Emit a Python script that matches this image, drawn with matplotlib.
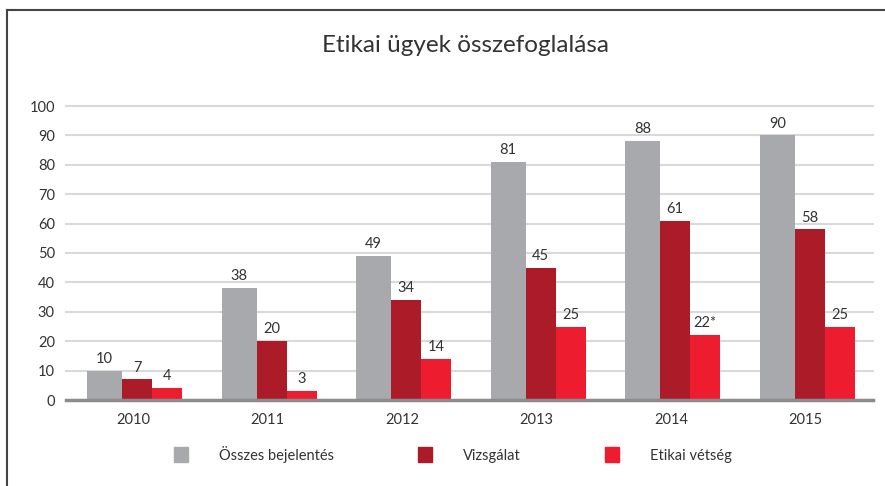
import matplotlib
matplotlib.use('Agg')
import matplotlib.pyplot as plt
from matplotlib.lines import Line2D
import numpy as np

plt.rcParams['font.family'] = ['Lato', 'DejaVu Sans']

# ── Data ──────────────────────────────────────────────────────────────────────
years      = ['2010', '2011', '2012', '2013', '2014', '2015']
osszes     = [10, 38, 49, 81, 88, 90]
vizsgalat  = [7, 20, 34, 45, 61, 58]
vetseg     = [4, 3, 14, 25, 22, 25]
vetseg_lbl = ['4', '3', '14', '25', '22*', '25']
series_names = ['Összes bejelentés', 'Vizsgálat', 'Etikai vétség']

# ── Style ─────────────────────────────────────────────────────────────────────
C_GRAY, C_DARK, C_RED = '#A7A9AC', '#AC1C28', '#ED1C2E'
TXT = '#333333'

fig = plt.figure(figsize=(8.85, 4.86), dpi=100)
ax = fig.add_axes([66 / 885, 86 / 486, 807 / 885, 294 / 486])

x = np.arange(len(years))
groups = [
    (osszes,    C_GRAY, -0.342, 0.26, [str(v) for v in osszes]),
    (vizsgalat, C_DARK, -0.082, 0.223, [str(v) for v in vizsgalat]),
    (vetseg,    C_RED,   0.141, 0.223, vetseg_lbl),
]
for vals, col, off, w, lbls in groups:
    bars = ax.bar(x + off, vals, width=w, align='edge', color=col, zorder=3)
    for b, lab in zip(bars, lbls):
        ax.annotate(lab, (b.get_x() + b.get_width() / 2, b.get_height()),
                    xytext=(0, 3.5), textcoords='offset points',
                    ha='center', va='bottom', fontsize=10.5, color=TXT)

ax.set_xlim(-0.5, len(years) - 0.5)
ax.set_ylim(0, 100)
ax.set_yticks(range(0, 101, 10))
ax.set_xticks(x)
ax.set_xticklabels(years)
ax.tick_params(length=0, labelsize=10.5, colors=TXT)
ax.tick_params(axis='y', pad=8)
ax.tick_params(axis='x', pad=9)
ax.grid(axis='y', color='#D9D9D9', linewidth=1.5, zorder=0)
for gl in ax.get_ygridlines():
    gl.set_clip_on(False)
for s in ['top', 'right', 'left']:
    ax.spines[s].set_visible(False)
ax.spines['bottom'].set_color('#8C8C8C')
ax.spines['bottom'].set_linewidth(2.5)
ax.spines['bottom'].set_zorder(4)

fig.text(465 / 885, 1 - 46 / 486, 'Etikai ügyek összefoglalása',
         ha='center', va='center', fontsize=17.5, color=TXT)

# legend
handles = [plt.Rectangle((0, 0), 1, 1, color=c) for c in (C_GRAY, C_DARK, C_RED)]
fig.legend(handles, series_names, loc='center', ncol=3,
           bbox_to_anchor=(453 / 885, 1 - 454 / 486), frameon=False,
           fontsize=10.5, handlelength=0.96, handleheight=1.16,
           handletextpad=2.12, columnspacing=5.8, labelcolor=TXT)

# frame lines (top and left)
fig.add_artist(Line2D([7 / 885, 1], [1 - 10 / 486] * 2, color='#444444', lw=1.5))
fig.add_artist(Line2D([7 / 885] * 2, [0, 1 - 10 / 486], color='#444444', lw=1.5))

fig.savefig('out.png', dpi=100)
